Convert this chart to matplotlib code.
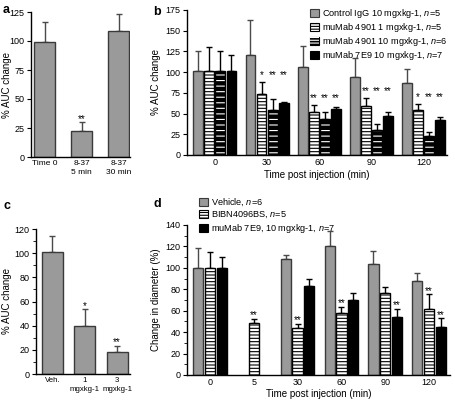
import numpy as np
import matplotlib
matplotlib.use('Agg')
import matplotlib.pyplot as plt
from matplotlib.patches import Patch
from matplotlib.legend_handler import HandlerTuple
from matplotlib.ticker import MultipleLocator

plt.rcParams['font.family'] = ['Liberation Sans', 'DejaVu Sans']
plt.rcParams['mathtext.fontset'] = 'custom'
plt.rcParams['mathtext.it'] = 'Liberation Sans:italic'
plt.rcParams['mathtext.rm'] = 'Liberation Sans'
plt.rcParams['hatch.linewidth'] = 0.8

# ---------------- data ----------------
# Panel a
a_labels = ['Time 0', '8-37\n5 min', '8-37\n30 min']
a_mean = [99, 22, 108.6]
a_err = [17.4, 8, 14.4]
a_stars = ['', '**', '']

# Panel b
b_groups = ['0', '30', '60', '90', '120']
b_names = ['Control IgG 10 mgxkg-1, $n$=5', 'muMab 4901 1 mgxkg-1, $n$=5',
           'muMab 4901 10 mgxkg-1, $n$=6', 'muMab 7E9 10 mgxkg-1, $n$=7']
b_control = [100.8, 121, 106, 94.4, 87]
b_control_err = [24.2, 41.7, 26, 22.3, 17]
b_4901_1 = [101, 74, 52, 59.5, 54]
b_4901_1_err = [29, 14, 8, 9.5, 8]
b_4901_10 = [101, 54, 43.7, 30.6, 23]
b_4901_10_err = [24, 13.5, 8.3, 7.1, 4.8]
b_7e9 = [101.6, 63, 55.6, 46.8, 41.7]
b_7e9_err = [19.4, 1, 1.9, 4.8, 3.9]
b_control_stars = ['', '', '', '', '']
b_4901_1_stars = ['', '*', '**', '**', '*']
b_4901_10_stars = ['', '**', '**', '**', '**']
b_7e9_stars = ['', '**', '**', '**', '**']

# Panel c
c_labels = ['Veh.', '1\nmgxkg-1', '3\nmgxkg-1']
c_mean = [100.8, 40, 18.5]
c_err = [13.2, 13.6, 5]
c_stars = ['', '*', '**']

# Panel d
d_groups = ['0', '5', '30', '60', '90', '120']
d_names = ['Vehicle, $n$=6', 'BIBN4096BS, $n$=5', 'muMab 7E9, 10 mgxkg-1, $n$=7']
d_vehicle = [100, np.nan, 108, 120.7, 104, 87.4]
d_vehicle_err = [19, np.nan, 4, 14, 11.7, 8.1]
d_bibn = [100, 48.8, 43.5, 57.6, 77, 62]
d_bibn_err = [14.5, 3.5, 4.1, 6.2, 5.4, 13.3]
d_7e9 = [100, np.nan, 83, 70, 53.8, 45]
d_7e9_err = [10, np.nan, 7, 6.8, 7.8, 8]
d_vehicle_stars = ['', '', '', '', '', '']
d_bibn_stars = ['', '**', '**', '**', '', '**']
d_7e9_stars = ['', '', '', '', '**', '**']

# ---------------- styles ----------------
GRAY = '#9a9a9a'
GRAY_EDGE = '#3a3a3a'
STYLE_GRAY = dict(face=GRAY, edge=GRAY_EDGE, hatch=None, hatchcol=None, ecol='#4a4a4a')
STYLE_WHITE_H = dict(face='white', edge='black', hatch='-----', hatchcol='black', ecol='black')
STYLE_BLACK_H = dict(face='black', edge='black', hatch='---', hatchcol='white', ecol='black')
STYLE_BLACK = dict(face='black', edge='black', hatch=None, hatchcol=None, ecol='black')

TICK_FS = 6.5
LAB_FS = 7
LEG_FS = 6.6
STAR_FS = 7

fig = plt.figure(figsize=(4.55, 4.0), dpi=100)
W, H = 455.0, 400.0

def add_ax(l, t, r, b):
    return fig.add_axes([l / W, 1 - b / H, (r - l) / W, (b - t) / H])

def style_ax(ax):
    ax.spines['top'].set_visible(False)
    ax.spines['right'].set_visible(False)
    ax.spines['left'].set_linewidth(1.0)
    ax.spines['bottom'].set_linewidth(1.0)
    ax.tick_params(axis='y', direction='out', length=3, width=0.8, labelsize=TICK_FS, pad=1.5)
    ax.tick_params(axis='y', which='minor', direction='out', length=2, width=0.6)
    ax.tick_params(axis='x', length=0, labelsize=TICK_FS, pad=2.5)

def draw_bars(ax, x, vals, errs, st, width, zorder=2):
    x = np.asarray(x, float)
    vals = np.asarray(vals, float)
    errs = np.asarray(errs, float)
    m = np.isfinite(vals)
    x, vals, errs = x[m], vals[m], errs[m]
    if st['hatch'] is None:
        ax.bar(x, vals, width, color=st['face'], edgecolor=st['edge'], linewidth=1.0, zorder=zorder)
    else:
        ax.bar(x, vals, width, color=st['face'], edgecolor=st['hatchcol'], hatch=st['hatch'],
               linewidth=0, zorder=zorder)
        ax.bar(x, vals, width, fill=False, edgecolor=st['edge'], linewidth=1.0, zorder=zorder + 0.1)
    ax.errorbar(x, vals, yerr=[np.zeros_like(errs), errs], fmt='none', ecolor=st['ecol'],
                elinewidth=1.0, capsize=2.2, capthick=1.0, zorder=zorder - 0.5)

def stars_at(ax, x, y, s):
    if s:
        ax.annotate(s, (x, y), xytext=(0, -1.0), textcoords='offset points',
                    ha='center', va='bottom', fontsize=STAR_FS)

def legend_handle(st):
    if st['hatch'] is None:
        return Patch(facecolor=st['face'], edgecolor=st['edge'], linewidth=0.8)
    if st['hatchcol'] == 'black':
        return Patch(facecolor=st['face'], edgecolor='black', hatch='------', linewidth=0.8)
    return (Patch(facecolor='black', edgecolor='black', linewidth=0.8),
            Patch(facecolor='none', edgecolor='white', hatch='------', linewidth=0))

def place_ylabel(ax, right_px, l, r):
    ax.yaxis.set_label_coords((right_px - l) / (r - l), 0.5)

HMAP = {tuple: HandlerTuple(ndivide=1, pad=0)}

# ---------------- panel a ----------------
ax = add_ax(31, 12, 130, 157)
style_ax(ax)
xa = np.arange(len(a_labels))
draw_bars(ax, xa, a_mean, a_err, STYLE_GRAY, 0.57)
for i in range(len(xa)):
    stars_at(ax, xa[i], a_mean[i] + a_err[i], a_stars[i])
ax.set_xlim(-0.365, 2.3)
ax.set_ylim(0, 125)
ax.yaxis.set_major_locator(MultipleLocator(25))
ax.set_xticks(xa)
ax.set_xticklabels(a_labels, fontsize=6, linespacing=1.25)
ax.set_ylabel('% AUC change', fontsize=LAB_FS)
place_ylabel(ax, 12.5, 31, 130)

# ---------------- panel b ----------------
ax = add_ax(187, 10, 447, 155)
style_ax(ax)
xb = np.arange(len(b_groups))
bw, bs = 0.19, 0.212
b_vals = [b_control, b_4901_1, b_4901_10, b_7e9]
b_errs = [b_control_err, b_4901_1_err, b_4901_10_err, b_7e9_err]
b_star = [b_control_stars, b_4901_1_stars, b_4901_10_stars, b_7e9_stars]
b_styles = [STYLE_GRAY, STYLE_WHITE_H, STYLE_BLACK_H, STYLE_BLACK]
for k in range(4):
    draw_bars(ax, xb + (k - 1.5) * bs, b_vals[k], b_errs[k], b_styles[k], bw)
for g in range(len(b_groups)):
    tops = [b_vals[k][g] + b_errs[k][g] for k in range(4) if b_star[k][g]]
    if tops:
        ytop = max(tops) + 4
        for k in range(4):
            stars_at(ax, xb[g] + (k - 1.5) * bs, ytop, b_star[k][g])
ax.set_xlim(-0.535, 4.45)
ax.set_ylim(0, 175)
ax.yaxis.set_major_locator(MultipleLocator(25))
ax.set_xticks(xb)
ax.set_xticklabels(b_groups)
ax.set_xlabel('Time post injection (min)', fontsize=LAB_FS, labelpad=1.5)
ax.set_ylabel('% AUC change', fontsize=LAB_FS)
place_ylabel(ax, 161, 187, 447)
fig.legend([legend_handle(s) for s in b_styles], b_names, handler_map=HMAP,
           loc='upper left', bbox_to_anchor=(310 / W, 1 - 7 / H), frameon=False,
           fontsize=LEG_FS, borderpad=0, borderaxespad=0, handlelength=0.95, handleheight=0.9,
           handletextpad=0.4, labelspacing=0.12)

# ---------------- panel c ----------------
ax = add_ax(36, 229, 130, 374)
style_ax(ax)
xc = np.arange(len(c_labels))
draw_bars(ax, xc, c_mean, c_err, STYLE_GRAY, 0.65)
for i in range(len(xc)):
    stars_at(ax, xc[i], c_mean[i] + c_err[i], c_stars[i])
ax.set_xlim(-0.51, 2.4)
ax.set_ylim(0, 120)
ax.yaxis.set_major_locator(MultipleLocator(20))
ax.yaxis.set_minor_locator(MultipleLocator(10))
ax.set_xticks(xc)
ax.set_xticklabels(c_labels, fontsize=5.6, linespacing=1.25)
ax.set_ylabel('% AUC change', fontsize=LAB_FS)
place_ylabel(ax, 12.5, 36, 130)

# ---------------- panel d ----------------
ax = add_ax(187, 225, 450, 375)
style_ax(ax)
xd = np.arange(len(d_groups))
dw, ds = 0.235, 0.267
d_vals = [d_vehicle, d_bibn, d_7e9]
d_errs = [d_vehicle_err, d_bibn_err, d_7e9_err]
d_star = [d_vehicle_stars, d_bibn_stars, d_7e9_stars]
d_styles = [STYLE_GRAY, STYLE_WHITE_H, STYLE_BLACK]
for k in range(3):
    draw_bars(ax, xd + (k - 1) * ds, d_vals[k], d_errs[k], d_styles[k], dw)
    for g in range(len(d_groups)):
        if d_star[k][g]:
            stars_at(ax, xd[g] + (k - 1) * ds, d_vals[k][g] + d_errs[k][g], d_star[k][g])
ax.set_xlim(-0.525, 5.48)
ax.set_ylim(0, 140)
ax.yaxis.set_major_locator(MultipleLocator(20))
ax.yaxis.set_minor_locator(MultipleLocator(10))
ax.set_xticks(xd)
ax.set_xticklabels(d_groups)
ax.set_xlabel('Time post injection (min)', fontsize=LAB_FS, labelpad=1)
ax.set_ylabel('Change in diameter (%)', fontsize=LAB_FS)
place_ylabel(ax, 161, 187, 450)
fig.legend([legend_handle(s) for s in d_styles], d_names, handler_map=HMAP,
           loc='upper left', bbox_to_anchor=(199 / W, 1 - 197 / H), frameon=False,
           fontsize=LEG_FS, borderpad=0, borderaxespad=0, handlelength=1.0, handleheight=0.9,
           handletextpad=0.3, labelspacing=0.18)

# ---------------- panel letters ----------------
for lx, ly, s in [(3, 10, 'a'), (153, 12, 'b'), (3, 206, 'c'), (153, 204, 'd')]:
    fig.text(lx / W, 1 - ly / H, s, fontsize=9, fontweight='bold', va='center', ha='left')

fig.savefig('out.png', dpi=100)
